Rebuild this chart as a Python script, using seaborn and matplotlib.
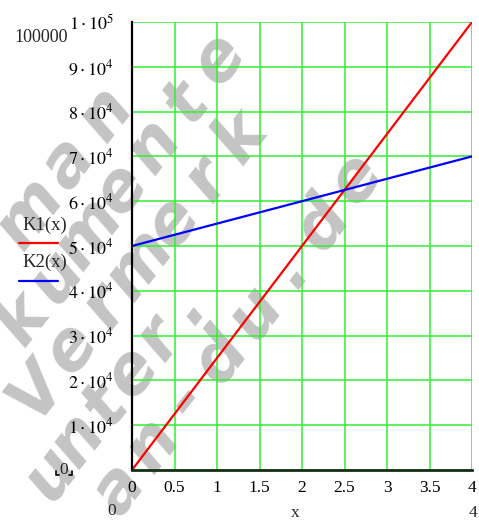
import matplotlib
matplotlib.use("Agg")
import matplotlib.pyplot as plt
import seaborn as sns
import pandas as pd
from matplotlib.lines import Line2D

# ---- data ----
x_vals = [0, 4]
k1_vals = [0, 100000]
k2_vals = [50000, 70000]
x_ticks = [0, 0.5, 1, 1.5, 2, 2.5, 3, 3.5, 4]
x_tick_labels = ["0", "0.5", "1", "1.5", "2", "2.5", "3", "3.5", "4"]
y_ticks = [0, 10000, 20000, 30000, 40000, 50000, 60000, 70000, 80000, 90000, 100000]
y_tick_labels = [""] + [r"$%d\cdot 10^{4}$" % i for i in range(1, 10)] + [r"$1\cdot 10^{5}$"]
legend_labels = ["K1(x)", "K2(x)"]
series_colors = ["#ff0000", "#0000ff"]
watermark_words = ["man", "kumente", "Vermerk", "unter.", "an-du.de"]

sns.set_theme(style="white")
plt.rcParams["font.family"] = ["Liberation Serif", "DejaVu Serif"]
plt.rcParams["mathtext.fontset"] = "stix"

W, H = 479, 524
fig = plt.figure(figsize=(W / 100, H / 100), dpi=100)
fig.patch.set_facecolor("white")

def fx(px):
    return px / W

def fy(py):
    return 1 - py / H

# ---- watermark (behind axes), letters spread along diagonal lines ----
wm_paths = [((30, 214), (107, 114)),
            ((24, 320), (220, 60)),
            ((38, 391), (242, 138)),
            ((52, 474), (187, 305)),
            ((120, 490), (357, 180))]
for word, ((x0, y0), (x1, y1)) in zip(watermark_words, wm_paths):
    n = len(word)
    for i, ch in enumerate(word):
        t = i / (n - 1)
        cx = x0 + (x1 - x0) * t + 14
        cy = y0 + (y1 - y0) * t + 11
        fig.text(fx(cx), fy(cy), ch, rotation=52, rotation_mode="anchor",
                 ha="center", va="baseline", fontsize=48, color="#c4c4c4",
                 family="DejaVu Sans", weight="bold", style="italic", zorder=-5)

ax = fig.add_axes([fx(132), fy(470), fx(472) - fx(132), (470 - 22) / H])
ax.set_facecolor("none")

df = pd.DataFrame({"x": x_vals, "K1": k1_vals, "K2": k2_vals})
sns.lineplot(data=df, x="x", y="K1", ax=ax, color=series_colors[0], lw=1.6, zorder=5)
sns.lineplot(data=df, x="x", y="K2", ax=ax, color=series_colors[1], lw=1.6, zorder=5)

ax.set_xlim(0, 4)
ax.set_ylim(0, 100000)
ax.set_xticks(x_ticks)
ax.set_xticklabels(x_tick_labels)
ax.set_yticks(y_ticks)
ax.set_yticklabels(y_tick_labels)
ax.set_xlabel("")
ax.set_ylabel("")

ax.grid(True, color="#33ee33", lw=1.1, zorder=1)
ax.set_axisbelow(True)
for s in ["top", "right"]:
    ax.spines[s].set_visible(False)
ax.spines["left"].set_color("black")
ax.spines["left"].set_linewidth(1.6)
ax.spines["bottom"].set_color("#143014")
ax.spines["bottom"].set_linewidth(2.0)
ax.spines["left"].set_zorder(6)
ax.spines["bottom"].set_zorder(6)

ax.tick_params(axis="both", which="major", direction="inout", length=10,
               width=1.4, color="black", labelcolor="black")
ax.tick_params(axis="y", pad=8, labelsize=13)
ax.tick_params(axis="x", pad=2, labelsize=12.5)

# ---- extra Mathcad texts ----
fig.text(fx(68), fy(37), "100000", ha="right", va="center", fontsize=13)
fig.text(fx(64), fy(470), "0", ha="center", va="center", fontsize=12.5)
# placeholder corner marks
fig.lines.append(Line2D([fx(56), fx(56), fx(59)], [fy(471), fy(475), fy(475)],
                        transform=fig.transFigure, color="black", lw=1.2))
fig.lines.append(Line2D([fx(69), fx(72), fx(72)], [fy(475), fy(475), fy(471)],
                        transform=fig.transFigure, color="black", lw=1.2))
fig.text(fx(112), fy(511), "0", ha="center", va="center", fontsize=12.5)
fig.text(fx(295), fy(513), "x", ha="center", va="center", fontsize=12.5)
fig.text(fx(473), fy(513), "4", ha="center", va="center", fontsize=12.5)

# ---- legend (Mathcad style: label above line) ----
leg_text_y = [225, 262]
leg_line_y = [243, 281]
for lab, col, ty, ly in zip(legend_labels, series_colors, leg_text_y, leg_line_y):
    fig.text(fx(22), fy(ty), lab, ha="left", va="center", fontsize=13.5)
    fig.lines.append(Line2D([fx(19), fx(58)], [fy(ly), fy(ly)],
                            transform=fig.transFigure, color=col, lw=1.6))

fig.savefig("out.png", dpi=100)
